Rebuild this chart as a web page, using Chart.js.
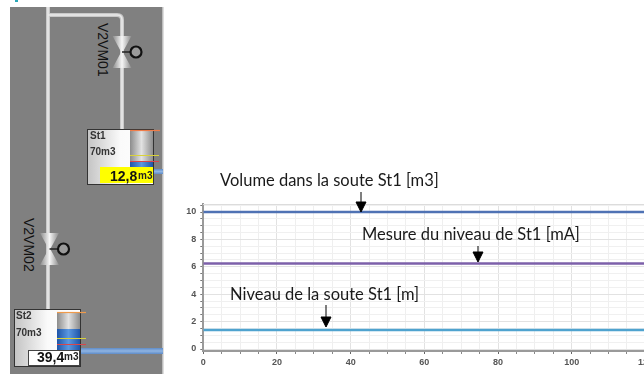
<!DOCTYPE html>
<html>
<head>
<meta charset="utf-8">
<script src="https://cdn.jsdelivr.net/npm/chart.js@4/dist/chart.umd.min.js"></script>
<style>
html, body { margin: 0; width: 644px; height: 374px; overflow: hidden; background: #fff; }
canvas, svg { position: absolute; left: 0; top: 0; }
.note { font: 16.5px Lato, sans-serif; fill: #1a1a1a; }
.tag { font: bold 10px "Liberation Sans", sans-serif; fill: #333; }
.read { font: bold 14px "Liberation Sans", sans-serif; fill: #111; }
.unit { font: bold 10px "Liberation Sans", sans-serif; fill: #222; }
.valve { font: 14px "Liberation Sans", sans-serif; fill: #111; }
</style>
</head>
<body>
<canvas id="chart" width="660" height="374"></canvas>
<svg width="644" height="374" xmlns="http://www.w3.org/2000/svg">
  <defs>
    <linearGradient id="box"><stop offset="0" stop-color="#c4c4c4"/><stop offset="0.5" stop-color="#fafafa"/><stop offset="1" stop-color="#fff"/></linearGradient>
    <linearGradient id="tube"><stop offset="0" stop-color="#8c8c8c"/><stop offset="0.5" stop-color="#e2e2e2"/><stop offset="1" stop-color="#8c8c8c"/></linearGradient>
    <linearGradient id="fill"><stop offset="0" stop-color="#1f55a8"/><stop offset="0.5" stop-color="#5b98e0"/><stop offset="1" stop-color="#1f55a8"/></linearGradient>
    <linearGradient id="pipe" x1="0" x2="0" y1="0" y2="1"><stop offset="0" stop-color="#5f8cc8"/><stop offset="0.5" stop-color="#8fb4e2"/><stop offset="1" stop-color="#5f8cc8"/></linearGradient>
    <linearGradient id="valve"><stop offset="0" stop-color="#8a8a8a"/><stop offset="0.5" stop-color="#f6f6f6"/><stop offset="1" stop-color="#8a8a8a"/></linearGradient>
    <g id="vv">
      <path d="M-9.5,-16 L9.5,-16 L0.8,0 L9.5,16 L-9.5,16 L-0.8,0 Z" fill="url(#valve)"/>
      <line x1="0" y1="0" x2="9" y2="0" stroke="#222" stroke-width="1.5"/>
      <circle cx="14" cy="0" r="5.5" fill="#9a9a9a" stroke="#111" stroke-width="2.2"/>
    </g>
  </defs>

  <rect x="10" y="7" width="153" height="367" fill="#808080"/>
  <rect x="162" y="7" width="1.5" height="367" fill="#bdbdbd"/>
  <rect x="15" y="0" width="3" height="2" fill="#2aa7b8"/>

  <path d="M48,7 V310 M48,15 H117 Q122,15 122,20 V130" fill="none" stroke="#c9c9c9" stroke-width="4"/>
  <path d="M48,7 V310 M48,15 H117 Q122,15 122,20 V130" fill="none" stroke="#eaeaea" stroke-width="1.5"/>

  <use href="#vv" x="122" y="52"/>
  <use href="#vv" x="49.5" y="249"/>
  <text class="valve" transform="translate(98,23) rotate(90)">V2VM01</text>
  <text class="valve" transform="translate(24,218) rotate(90)">V2VM02</text>

  <rect x="153" y="169" width="10" height="5" fill="url(#pipe)"/>
  <rect x="87.5" y="129.5" width="66" height="55" fill="url(#box)" stroke="#333"/>
  <rect x="130" y="130" width="23" height="37" fill="url(#tube)"/>
  <rect x="130" y="161" width="23" height="6" fill="url(#fill)"/>
  <line x1="130" y1="130.5" x2="160" y2="130.5" stroke="#ef7d4a" stroke-width="1.2"/>
  <line x1="130" y1="155.5" x2="159" y2="155.5" stroke="#d9d23a" stroke-width="1"/>
  <line x1="130" y1="161.5" x2="159" y2="161.5" stroke="#d8454a" stroke-width="1"/>
  <rect x="100" y="167" width="53" height="16" fill="#ffff00"/>
  <text class="tag" x="90" y="139">St1</text>
  <text class="tag" x="90" y="155">70m3</text>
  <text class="read" x="110" y="181">12,8</text>
  <text class="unit" x="138" y="179">m3</text>

  <rect x="81" y="348" width="82" height="6" fill="url(#pipe)"/>
  <rect x="14.5" y="309.5" width="66" height="57" fill="url(#box)" stroke="#333"/>
  <rect x="57" y="312" width="23" height="38" fill="url(#tube)"/>
  <rect x="57" y="329" width="23" height="21" fill="url(#fill)"/>
  <line x1="57" y1="312.5" x2="86" y2="312.5" stroke="#ef9a4a" stroke-width="1.2"/>
  <line x1="57" y1="338.5" x2="86" y2="338.5" stroke="#d9d23a" stroke-width="1"/>
  <line x1="57" y1="344.5" x2="86" y2="344.5" stroke="#d8454a" stroke-width="1"/>
  <rect x="28.5" y="350.5" width="51" height="15" fill="#fff" stroke="#444"/>
  <text class="tag" x="16" y="319">St2</text>
  <text class="tag" x="16" y="336">70m3</text>
  <text class="read" x="37" y="362">39,4</text>
  <text class="unit" x="64" y="360">m3</text>

  <line x1="203" y1="204.5" x2="644" y2="204.5" stroke="#dcdcdc"/>
  <text class="note" x="220" y="186">Volume dans la soute St1 [m3]</text>
  <text class="note" x="362" y="240">Mesure du niveau de St1 [mA]</text>
  <text class="note" x="230" y="300">Niveau de la soute St1 [m]</text>
  <path d="M361,192 V203 M356,202 H366 L361,212 Z" stroke="#000" fill="#000"/>
  <path d="M478,246 V253 M473,252 H483 L478,262 Z" stroke="#000" fill="#000"/>
  <path d="M326,305 V317 M321,317 H331 L326,327 Z" stroke="#000" fill="#000"/>
</svg>
<script>
const timeAxis = [0, 120];
const volumeSt1 = [10, 10];
const mesureSt1 = [6.24, 6.24];
const niveauSt1 = [1.39, 1.39];

const toPoints = (ys) => timeAxis.map((x, i) => ({ x: x, y: ys[i] }));

const ctx = document.getElementById("chart").getContext("2d");

new Chart(ctx, {
    type: "line",
    data: {
        datasets: [
            { label: "Volume dans la soute St1 [m3]", data: toPoints(volumeSt1), borderColor: "#4f72b4" },
            { label: "Mesure du niveau de St1 [mA]", data: toPoints(mesureSt1), borderColor: "#7d60aa" },
            { label: "Niveau de la soute St1 [m]", data: toPoints(niveauSt1), borderColor: "#4fa3cf" },
        ],
    },
    options: {
        responsive: false,
        animation: false,
        layout: { padding: { top: 204, right: 14.6, left: 0, bottom: 0 } },
        elements: {
            line: { borderWidth: 2.5 },
            point: { radius: 0 },
        },
        plugins: {
            legend: { display: false },
            tooltip: { enabled: false },
        },
        scales: {
            x: {
                type: "linear",
                min: 0,
                max: 120,
                afterFit: (scale) => { scale.height = 23; },
                border: { color: "#9a9a9a", width: 2 },
                grid: {
                    color: (c) => (c.tick.value % 20 === 0 ? "#e2e2e2" : "#efefef"),
                    tickColor: (c) => (c.tick.value % 20 === 0 ? "#666" : "#888"),
                    tickLength: 3,
                },
                ticks: {
                    stepSize: 5,
                    includeBounds: false,
                    autoSkip: false,
                    maxRotation: 0,
                    padding: 3,
                    color: "#555",
                    font: { family: "Liberation Sans", size: 9, weight: "bold" },
                    callback: (v) => (v % 20 === 0 ? v : ""),
                },
            },
            y: {
                min: -0.146,
                max: 10.585,
                afterFit: (scale) => { scale.width = 203.3; },
                border: { color: "#9a9a9a", width: 2 },
                grid: {
                    color: (c) => (c.tick.value % 2 === 0 ? "#e2e2e2" : "#f0f0f0"),
                    tickColor: "#777",
                    tickLength: 3,
                },
                ticks: {
                    stepSize: 0.5,
                    includeBounds: false,
                    autoSkip: false,
                    padding: 4,
                    color: "#555",
                    font: { family: "Liberation Sans", size: 9, weight: "bold" },
                    callback: (v) => (v % 2 === 0 ? v : ""),
                },
            },
        },
    },
});
</script>
</body>
</html>
